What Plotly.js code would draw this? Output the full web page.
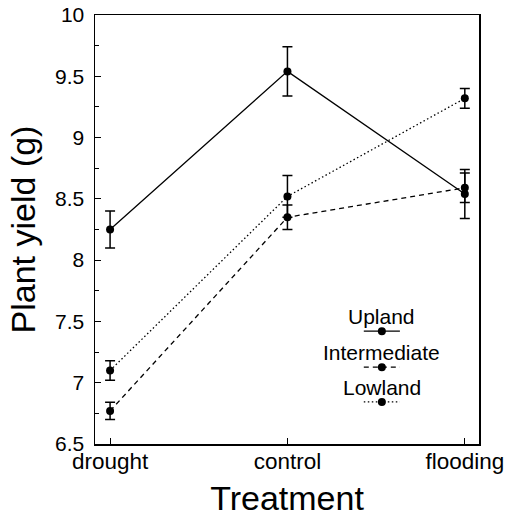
<!DOCTYPE html>
<html>
<head>
<meta charset="utf-8">
<script src="https://cdn.plot.ly/plotly-3.0.1.min.js"></script>
<style>html,body{margin:0;padding:0;background:#fff;}#chart{width:505px;height:517px;}</style>
</head>
<body>
<div id="chart"></div>
<script>
const treatments = ["drought", "control", "flooding"];
const uplandY = [8.25, 9.54, 8.54];
const uplandErr = [0.15, 0.2, 0.2];
const intermediateY = [6.77, 8.35, 8.59];
const intermediateErr = [0.07, 0.1, 0.12];
const lowlandY = [7.1, 8.52, 9.32];
const lowlandErr = [0.08, 0.17, 0.08];
const seriesNames = ["Upland", "Intermediate", "Lowland"];
const seriesDash = ["solid", "5px,4px", "1.5px,2.5px"];
const yTickVals = [6.5, 7, 7.5, 8, 8.5, 9, 9.5, 10];
const yTickText = ["6.5", "7", "7.5", "8", "8.5", "9", "9.5", "10"];

const font = "Liberation Sans, Arial, Helvetica, sans-serif";
const xIdx = treatments.map((_, i) => i);
const ys = [uplandY, intermediateY, lowlandY];
const errs = [uplandErr, intermediateErr, lowlandErr];

const traces = seriesNames.map((name, k) => ({
  type: "scatter", mode: "lines+markers", name: name,
  x: xIdx, y: ys[k],
  line: {color: "#000", width: 1.3, dash: seriesDash[k]},
  marker: {color: "#000", size: 8},
  error_y: {type: "data", array: errs[k], visible: true, color: "#000", thickness: 1.5, width: 5},
  showlegend: false, hoverinfo: "skip"
}));

// custom legend (label above line sample), on an overlay axis
const legX = 0.747, legHalf = 0.047;
const legY = [0.263, 0.179, 0.098];
seriesNames.forEach((name, k) => {
  traces.push({
    type: "scatter", mode: "lines", x: [legX - legHalf, legX + legHalf], y: [legY[k], legY[k]],
    xaxis: "x2", yaxis: "y2", line: {color: "#000", width: 1.3, dash: seriesDash[k]},
    showlegend: false, hoverinfo: "skip"
  });
  traces.push({
    type: "scatter", mode: "markers", x: [legX], y: [legY[k]],
    xaxis: "x2", yaxis: "y2", marker: {color: "#000", size: 8},
    showlegend: false, hoverinfo: "skip"
  });
});

const annotations = seriesNames.map((name, k) => ({
  xref: "x2", yref: "y2", x: legX, y: legY[k] + 0.034, text: name,
  showarrow: false, xanchor: "center", yanchor: "middle",
  font: {family: font, size: 21, color: "#000"}
}));

const layout = {
  width: 505, height: 517,
  margin: {l: 95, r: 26, t: 15, b: 73},
  paper_bgcolor: "#fff", plot_bgcolor: "#fff",
  font: {family: font, color: "#000"},
  xaxis: {
    range: [-0.085, 2.08], tickvals: xIdx, ticktext: treatments,
    ticks: "inside", ticklen: 6, tickcolor: "#000",
    showline: true, linecolor: "#000", linewidth: 1.5, mirror: true,
    showgrid: false, zeroline: false, ticklabelstandoff: -4,
    ticklabeloverflow: "allow",
    tickfont: {family: font, size: 22.5, color: "#000"},
    title: {text: "Treatment", font: {family: font, size: 34, color: "#000"}, standoff: 13}
  },
  yaxis: {
    range: [6.5, 10], tickvals: yTickVals, ticktext: yTickText,
    ticks: "inside", ticklen: 6, tickcolor: "#000",
    minor: {dtick: 0.25, tick0: 6.5, ticks: "inside", ticklen: 4, tickcolor: "#000", showgrid: false},
    showline: true, linecolor: "#000", linewidth: 1.5, mirror: true,
    showgrid: false, zeroline: false, ticklabelstandoff: 5,
    tickfont: {family: font, size: 21, color: "#000"},
    title: {text: "Plant yield (g)", font: {family: font, size: 34, color: "#000"}, standoff: 9}
  },
  xaxis2: {overlaying: "x", range: [0, 1], visible: false, fixedrange: true},
  yaxis2: {overlaying: "y", range: [0, 1], visible: false, fixedrange: true},
  annotations: annotations,
  showlegend: false
};

Plotly.newPlot("chart", traces, layout, {displayModeBar: false, staticPlot: true});
</script>
</body>
</html>
